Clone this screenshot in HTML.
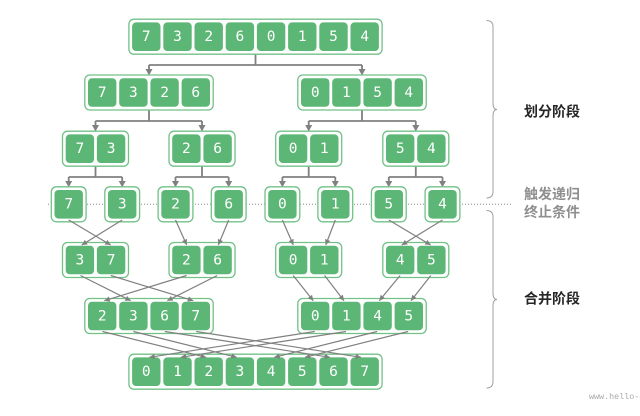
<!DOCTYPE html>
<html><head><meta charset="utf-8"><style>
html,body{margin:0;padding:0;background:#fff;overflow:hidden}
svg{display:block}
.b{fill:#fff;stroke:#72c187;stroke-width:1.3}
.c{fill:#5cb675}
.t{fill:#fff;font-family:"DejaVu Sans Mono","Liberation Mono",monospace;font-size:14.5px;text-anchor:middle;dominant-baseline:central}
.s{stroke:#808080;stroke-width:1.8;fill:none}
.m{stroke:#808080;stroke-width:1.2;fill:none}
.lab{font-family:"Liberation Sans","Noto Sans CJK SC",sans-serif;font-size:14px;font-weight:bold}
</style></head><body>
<svg width="640" height="416" viewBox="0 0 640 416" xmlns="http://www.w3.org/2000/svg">
<defs>
<marker id="a" viewBox="0 0 10 10" refX="10" refY="5" markerWidth="5.5" markerHeight="5.5" orient="auto" markerUnits="userSpaceOnUse"><path d="M0,0 L10,5 L0,10 z" fill="#808080"/></marker>
</defs>
<!-- dotted line -->
<line x1="48" y1="204.3" x2="512" y2="204.3" stroke="#888" stroke-width="1" stroke-dasharray="1,2"/>

<!-- split connectors -->
<g class="s">
<path d="M255.5,54.2V65M149,65H362M149,65V70M362,65V70"/>
<path d="M149,110V121M95.5,121H202M95.5,121V126M202,121V126"/>
<path d="M362,110V121M308.7,121H415.8M308.7,121V126M415.8,121V126"/>
<path d="M95.5,166.2V177M68.7,177H122.2M68.7,177V182M122.2,177V182"/>
<path d="M202,166.2V177M175.5,177H228.7M175.5,177V182M228.7,177V182"/>
<path d="M308.7,166.2V177M282.4,177H335.3M282.4,177V182M335.3,177V182"/>
<path d="M415.8,166.2V177M388.8,177H442.5M388.8,177V182M442.5,177V182"/>
</g>
<g fill="#808080">
<path d="M145.5,69L152.5,69L149,75.5z"/><path d="M358.5,69L365.5,69L362,75.5z"/>
<path d="M92,125L99,125L95.5,131.5z"/><path d="M198.5,125L205.5,125L202,131.5z"/>
<path d="M305.2,125L312.2,125L308.7,131.5z"/><path d="M412.3,125L419.3,125L415.8,131.5z"/>
<path d="M65.2,181L72.2,181L68.7,187.3z"/><path d="M118.7,181L125.7,181L122.2,187.3z"/>
<path d="M172,181L179,181L175.5,187.3z"/><path d="M225.2,181L232.2,181L228.7,187.3z"/>
<path d="M278.9,181L285.9,181L282.4,187.3z"/><path d="M331.8,181L338.8,181L335.3,187.3z"/>
<path d="M385.3,181L392.3,181L388.8,187.3z"/><path d="M439,181L446,181L442.5,187.3z"/>
</g>

<!-- Level 0 -->
<rect class="b" x="128.9" y="19.2" width="253.2" height="35" rx="5"/>
<g class="c">
<rect x="132.1" y="22.4" width="28.4" height="28.6" rx="4"/><rect x="163.3" y="22.4" width="28.4" height="28.6" rx="4"/><rect x="194.5" y="22.4" width="28.4" height="28.6" rx="4"/><rect x="225.7" y="22.4" width="28.4" height="28.6" rx="4"/><rect x="256.9" y="22.4" width="28.4" height="28.6" rx="4"/><rect x="288.1" y="22.4" width="28.4" height="28.6" rx="4"/><rect x="319.3" y="22.4" width="28.4" height="28.6" rx="4"/><rect x="350.5" y="22.4" width="28.4" height="28.6" rx="4"/>
</g>
<g class="t">
<text x="146.3" y="37">7</text><text x="177.5" y="37">3</text><text x="208.7" y="37">2</text><text x="239.9" y="37">6</text><text x="271.1" y="37">0</text><text x="302.3" y="37">1</text><text x="333.5" y="37">5</text><text x="364.7" y="37">4</text>
</g>

<!-- Level 1 -->
<rect class="b" x="84.8" y="75" width="128.4" height="35" rx="5"/>
<rect class="b" x="297.8" y="75" width="128.4" height="35" rx="5"/>
<g class="c">
<rect x="88" y="78.2" width="28.4" height="28.6" rx="4"/><rect x="119.2" y="78.2" width="28.4" height="28.6" rx="4"/><rect x="150.4" y="78.2" width="28.4" height="28.6" rx="4"/><rect x="181.6" y="78.2" width="28.4" height="28.6" rx="4"/>
<rect x="301" y="78.2" width="28.4" height="28.6" rx="4"/><rect x="332.2" y="78.2" width="28.4" height="28.6" rx="4"/><rect x="363.4" y="78.2" width="28.4" height="28.6" rx="4"/><rect x="394.6" y="78.2" width="28.4" height="28.6" rx="4"/>
</g>
<g class="t">
<text x="102.2" y="92.8">7</text><text x="133.4" y="92.8">3</text><text x="164.6" y="92.8">2</text><text x="195.8" y="92.8">6</text>
<text x="315.2" y="92.8">0</text><text x="346.4" y="92.8">1</text><text x="377.6" y="92.8">5</text><text x="408.8" y="92.8">4</text>
</g>

<!-- Level 2 -->
<rect class="b" x="62.5" y="131.2" width="66" height="35" rx="5"/>
<rect class="b" x="169" y="131.2" width="66" height="35" rx="5"/>
<rect class="b" x="275.7" y="131.2" width="66" height="35" rx="5"/>
<rect class="b" x="382.8" y="131.2" width="66" height="35" rx="5"/>
<g class="c">
<rect x="65.7" y="134.4" width="28.4" height="28.6" rx="4"/><rect x="96.9" y="134.4" width="28.4" height="28.6" rx="4"/>
<rect x="172.2" y="134.4" width="28.4" height="28.6" rx="4"/><rect x="203.4" y="134.4" width="28.4" height="28.6" rx="4"/>
<rect x="278.9" y="134.4" width="28.4" height="28.6" rx="4"/><rect x="310.1" y="134.4" width="28.4" height="28.6" rx="4"/>
<rect x="386" y="134.4" width="28.4" height="28.6" rx="4"/><rect x="417.2" y="134.4" width="28.4" height="28.6" rx="4"/>
</g>
<g class="t">
<text x="79.9" y="149">7</text><text x="111.1" y="149">3</text>
<text x="186.4" y="149">2</text><text x="217.6" y="149">6</text>
<text x="293.1" y="149">0</text><text x="324.3" y="149">1</text>
<text x="400.2" y="149">5</text><text x="431.4" y="149">4</text>
</g>

<!-- Level 3 -->
<g class="b">
<rect x="51.3" y="186.8" width="34.8" height="35" rx="5"/><rect x="104.8" y="186.8" width="34.8" height="35" rx="5"/><rect x="158.1" y="186.8" width="34.8" height="35" rx="5"/><rect x="211.3" y="186.8" width="34.8" height="35" rx="5"/><rect x="265" y="186.8" width="34.8" height="35" rx="5"/><rect x="317.9" y="186.8" width="34.8" height="35" rx="5"/><rect x="371.4" y="186.8" width="34.8" height="35" rx="5"/><rect x="425.1" y="186.8" width="34.8" height="35" rx="5"/>
</g>
<g class="c">
<rect x="54.5" y="190" width="28.4" height="28.6" rx="4"/><rect x="108" y="190" width="28.4" height="28.6" rx="4"/><rect x="161.3" y="190" width="28.4" height="28.6" rx="4"/><rect x="214.5" y="190" width="28.4" height="28.6" rx="4"/><rect x="268.2" y="190" width="28.4" height="28.6" rx="4"/><rect x="321.1" y="190" width="28.4" height="28.6" rx="4"/><rect x="374.6" y="190" width="28.4" height="28.6" rx="4"/><rect x="428.3" y="190" width="28.4" height="28.6" rx="4"/>
</g>
<g class="t">
<text x="68.7" y="204.6">7</text><text x="122.2" y="204.6">3</text><text x="175.5" y="204.6">2</text><text x="228.7" y="204.6">6</text><text x="282.4" y="204.6">0</text><text x="335.3" y="204.6">1</text><text x="388.8" y="204.6">5</text><text x="442.5" y="204.6">4</text>
</g>

<!-- Level 4 -->
<rect class="b" x="62.5" y="242.5" width="66" height="35" rx="5"/>
<rect class="b" x="169" y="242.5" width="66" height="35" rx="5"/>
<rect class="b" x="275.7" y="242.5" width="66" height="35" rx="5"/>
<rect class="b" x="382.8" y="242.5" width="66" height="35" rx="5"/>
<g class="c">
<rect x="65.7" y="245.7" width="28.4" height="28.6" rx="4"/><rect x="96.9" y="245.7" width="28.4" height="28.6" rx="4"/>
<rect x="172.2" y="245.7" width="28.4" height="28.6" rx="4"/><rect x="203.4" y="245.7" width="28.4" height="28.6" rx="4"/>
<rect x="278.9" y="245.7" width="28.4" height="28.6" rx="4"/><rect x="310.1" y="245.7" width="28.4" height="28.6" rx="4"/>
<rect x="386" y="245.7" width="28.4" height="28.6" rx="4"/><rect x="417.2" y="245.7" width="28.4" height="28.6" rx="4"/>
</g>
<g class="t">
<text x="79.9" y="260.3">3</text><text x="111.1" y="260.3">7</text>
<text x="186.4" y="260.3">2</text><text x="217.6" y="260.3">6</text>
<text x="293.1" y="260.3">0</text><text x="324.3" y="260.3">1</text>
<text x="400.2" y="260.3">4</text><text x="431.4" y="260.3">5</text>
</g>

<!-- Level 5 -->
<rect class="b" x="84.8" y="298.5" width="128.4" height="35" rx="5"/>
<rect class="b" x="297.8" y="298.5" width="128.4" height="35" rx="5"/>
<g class="c">
<rect x="88" y="301.7" width="28.4" height="28.6" rx="4"/><rect x="119.2" y="301.7" width="28.4" height="28.6" rx="4"/><rect x="150.4" y="301.7" width="28.4" height="28.6" rx="4"/><rect x="181.6" y="301.7" width="28.4" height="28.6" rx="4"/>
<rect x="301" y="301.7" width="28.4" height="28.6" rx="4"/><rect x="332.2" y="301.7" width="28.4" height="28.6" rx="4"/><rect x="363.4" y="301.7" width="28.4" height="28.6" rx="4"/><rect x="394.6" y="301.7" width="28.4" height="28.6" rx="4"/>
</g>
<g class="t">
<text x="102.2" y="316.3">2</text><text x="133.4" y="316.3">3</text><text x="164.6" y="316.3">6</text><text x="195.8" y="316.3">7</text>
<text x="315.2" y="316.3">0</text><text x="346.4" y="316.3">1</text><text x="377.6" y="316.3">4</text><text x="408.8" y="316.3">5</text>
</g>

<!-- Level 6 -->
<rect class="b" x="128.9" y="354.2" width="253.2" height="35" rx="5"/>
<g class="c">
<rect x="132.1" y="357.4" width="28.4" height="28.6" rx="4"/><rect x="163.3" y="357.4" width="28.4" height="28.6" rx="4"/><rect x="194.5" y="357.4" width="28.4" height="28.6" rx="4"/><rect x="225.7" y="357.4" width="28.4" height="28.6" rx="4"/><rect x="256.9" y="357.4" width="28.4" height="28.6" rx="4"/><rect x="288.1" y="357.4" width="28.4" height="28.6" rx="4"/><rect x="319.3" y="357.4" width="28.4" height="28.6" rx="4"/><rect x="350.5" y="357.4" width="28.4" height="28.6" rx="4"/>
</g>
<g class="t">
<text x="146.3" y="372">0</text><text x="177.5" y="372">1</text><text x="208.7" y="372">2</text><text x="239.9" y="372">3</text><text x="271.1" y="372">4</text><text x="302.3" y="372">5</text><text x="333.5" y="372">6</text><text x="364.7" y="372">7</text>
</g>

<!-- merge connectors -->
<g class="m">
<line x1="68.7" y1="220" x2="110.7" y2="245" marker-end="url(#a)"/>
<line x1="122.2" y1="220" x2="81.7" y2="245" marker-end="url(#a)"/>
<line x1="175.5" y1="220" x2="186.7" y2="245" marker-end="url(#a)"/>
<line x1="228.7" y1="220" x2="218.3" y2="245" marker-end="url(#a)"/>
<line x1="282.4" y1="220" x2="293.3" y2="245" marker-end="url(#a)"/>
<line x1="335.3" y1="220" x2="325.7" y2="245" marker-end="url(#a)"/>
<line x1="388.8" y1="220" x2="430.7" y2="245" marker-end="url(#a)"/>
<line x1="442.5" y1="220" x2="401.7" y2="245" marker-end="url(#a)"/>

<line x1="80.5" y1="275.5" x2="130.7" y2="300.7" marker-end="url(#a)"/>
<line x1="110.8" y1="275.5" x2="193.3" y2="300.7" marker-end="url(#a)"/>
<line x1="186.6" y1="275.5" x2="104.3" y2="300.7" marker-end="url(#a)"/>
<line x1="217.2" y1="275.5" x2="167.3" y2="300.7" marker-end="url(#a)"/>
<line x1="293.2" y1="275.5" x2="313.3" y2="300.7" marker-end="url(#a)"/>
<line x1="324.6" y1="275.5" x2="344" y2="300.7" marker-end="url(#a)"/>
<line x1="400.1" y1="275.5" x2="379.3" y2="300.7" marker-end="url(#a)"/>
<line x1="430.8" y1="275.5" x2="411" y2="300.7" marker-end="url(#a)"/>

<line x1="102.5" y1="331.5" x2="206" y2="357.3" marker-end="url(#a)"/>
<line x1="133.4" y1="331.5" x2="236.7" y2="357.3" marker-end="url(#a)"/>
<line x1="164.8" y1="331.5" x2="330" y2="357.3" marker-end="url(#a)"/>
<line x1="196.2" y1="331.5" x2="361" y2="357.3" marker-end="url(#a)"/>
<line x1="314.8" y1="331.5" x2="149.3" y2="357.3" marker-end="url(#a)"/>
<line x1="346" y1="331.5" x2="180.7" y2="357.3" marker-end="url(#a)"/>
<line x1="377.2" y1="331.5" x2="274.3" y2="357.3" marker-end="url(#a)"/>
<line x1="408.2" y1="331.5" x2="305" y2="357.3" marker-end="url(#a)"/>
</g>

<!-- braces -->
<g fill="none" stroke="#a0a0a0" stroke-width="1">
<path d="M486.5,20.5 Q493,20.5 493,27 L493,103 Q493,109.5 497,109.5 Q493,109.5 493,116 L493,191.5 Q493,198 486.5,198"/>
<path d="M486.5,210.5 Q493,210.5 493,217 L493,293 Q493,299.5 497,299.5 Q493,299.5 493,306 L493,381.5 Q493,388 486.5,388"/>
</g>

<!-- labels -->
<text class="lab" x="524" y="116.5" fill="#262626">划分阶段</text>
<text class="lab" x="524" y="199" fill="#8f8f8f">触发递归</text>
<text class="lab" x="524" y="217" fill="#8f8f8f">终止条件</text>
<text class="lab" x="524" y="303.3" fill="#262626">合并阶段</text>
<text x="589" y="399" fill="#a8a8a8" font-family="Liberation Mono, monospace" font-size="8.4">www.hello-algo.com</text>
</svg>
</body></html>
